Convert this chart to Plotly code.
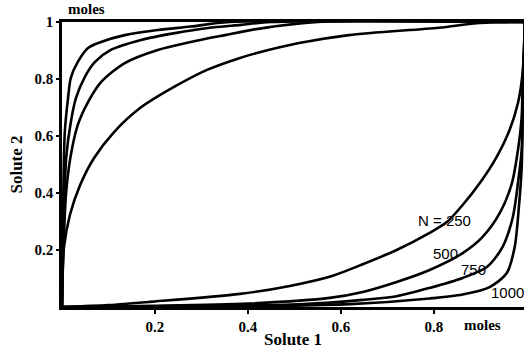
import plotly.graph_objects as go

# Upper-left family (rising steeply from the y axis)
up_1000_x = [0.0, 0.002, 0.006, 0.013, 0.019, 0.034, 0.056, 0.084, 0.135, 0.206, 0.277, 0.36, 1.0]
up_1000_y = [0.0, 0.30, 0.614, 0.733, 0.804, 0.860, 0.909, 0.930, 0.954, 0.972, 0.984, 1.0, 1.0]

up_750_x = [0.0, 0.003, 0.009, 0.019, 0.030, 0.049, 0.071, 0.105, 0.170, 0.243, 0.314, 0.385, 0.45, 1.0]
up_750_y = [0.0, 0.25, 0.523, 0.649, 0.733, 0.807, 0.860, 0.902, 0.937, 0.961, 0.979, 0.990, 1.0, 1.0]

up_500_x = [0.0, 0.003, 0.009, 0.019, 0.034, 0.056, 0.084, 0.135, 0.206, 0.277, 0.351, 0.422, 0.55, 1.0]
up_500_y = [0.0, 0.20, 0.404, 0.533, 0.639, 0.719, 0.789, 0.856, 0.902, 0.930, 0.954, 0.976, 1.0, 1.0]

up_250_x = [0.0, 0.001, 0.004, 0.017, 0.039, 0.069, 0.112, 0.168, 0.241, 0.312, 0.383, 0.419, 0.510, 0.617, 0.811, 0.90, 1.0]
up_250_y = [0.0, 0.10, 0.207, 0.323, 0.428, 0.523, 0.614, 0.698, 0.772, 0.832, 0.874, 0.891, 0.926, 0.954, 0.980, 0.997, 1.0]

# Lower-right family (creeping along the x axis, rising at the right)
lo_250_x = [0.0, 0.10, 0.189, 0.383, 0.490, 0.581, 0.647, 0.720, 0.791, 0.828, 0.862, 0.899, 0.935, 0.963, 0.981, 0.991, 0.996]
lo_250_y = [0.0, 0.007, 0.018, 0.046, 0.074, 0.109, 0.150, 0.200, 0.260, 0.298, 0.358, 0.435, 0.526, 0.621, 0.716, 0.821, 1.0]

lo_500_x = [0.0, 0.20, 0.40, 0.576, 0.647, 0.720, 0.791, 0.862, 0.905, 0.942, 0.968, 0.981, 0.989, 0.991, 0.996]
lo_500_y = [0.0, 0.004, 0.012, 0.032, 0.053, 0.088, 0.130, 0.189, 0.246, 0.330, 0.435, 0.551, 0.667, 0.786, 1.0]

lo_750_x = [0.0, 0.30, 0.52, 0.647, 0.720, 0.791, 0.862, 0.914, 0.948, 0.970, 0.981, 0.989, 0.991, 0.996]
lo_750_y = [0.0, 0.003, 0.010, 0.025, 0.038, 0.067, 0.102, 0.140, 0.211, 0.316, 0.435, 0.551, 0.667, 1.0]

lo_1000_x = [0.0, 0.40, 0.62, 0.791, 0.862, 0.920, 0.957, 0.974, 0.983, 0.989, 0.991, 0.996]
lo_1000_y = [0.0, 0.003, 0.010, 0.030, 0.044, 0.070, 0.119, 0.211, 0.351, 0.491, 0.646, 1.0]

curve_labels = ["N = 250", "500", "750", "1000"]
label_x = [0.822, 0.825, 0.886, 0.958]
label_y = [0.302, 0.186, 0.133, 0.052]

x_ticks = [0.2, 0.4, 0.6, 0.8]
y_ticks = [0.2, 0.4, 0.6, 0.8, 1.0]
y_tick_text = ["0.2", "0.4", "0.6", "0.8", "1"]

fig = go.Figure()
series = [
    (up_1000_x, up_1000_y), (up_750_x, up_750_y), (up_500_x, up_500_y), (up_250_x, up_250_y),
    (lo_250_x, lo_250_y), (lo_500_x, lo_500_y), (lo_750_x, lo_750_y), (lo_1000_x, lo_1000_y),
]
for xs, ys in series:
    fig.add_trace(go.Scatter(x=xs, y=ys, mode="lines",
                             line=dict(color="black", width=2.6, shape="spline", smoothing=0.8),
                             showlegend=False, hoverinfo="skip"))

for t, lx, ly in zip(curve_labels, label_x, label_y):
    fig.add_annotation(x=lx, y=ly, text=t, showarrow=False, xref="x", yref="y",
                       xanchor="center", yanchor="middle",
                       font=dict(family="Liberation Sans", size=15, color="black"))

serif = dict(family="Liberation Serif", size=15, color="black")
fig.add_annotation(x=0.905, y=-0.062, xref="x", yref="paper", text="<b>moles</b>",
                   showarrow=False, xanchor="center", yanchor="middle", font=serif)
fig.add_annotation(x=0.052, y=1.045, xref="x", yref="paper", text="<b>moles</b>",
                   showarrow=False, xanchor="center", yanchor="middle", font=serif)

fig.update_layout(
    width=524, height=352,
    margin=dict(l=62, r=0, t=22, b=45),
    paper_bgcolor="white", plot_bgcolor="white",
    xaxis=dict(range=[0, 0.994], showgrid=False, zeroline=False,
               showline=True, linecolor="black", linewidth=2.5, mirror=True,
               ticks="outside", ticklen=4, tickwidth=2, tickcolor="black",
               tickvals=x_ticks, ticktext=["<b>%s</b>" % v for v in x_ticks],
               tickfont=dict(family="Liberation Serif", size=15, color="black"),
               title=dict(text="<b>Solute 1</b>", font=dict(family="Liberation Serif", size=17, color="black"),
                          standoff=0)),
    yaxis=dict(range=[0, 1], showgrid=False, zeroline=False,
               showline=True, linecolor="black", linewidth=2.5, mirror=False,
               ticks="outside", ticklen=3, tickwidth=2, tickcolor="black",
               tickvals=y_ticks, ticktext=["<b>%s</b>" % t for t in y_tick_text],
               tickfont=dict(family="Liberation Serif", size=15, color="black"),
               title=dict(text="<b>Solute 2</b>", font=dict(family="Liberation Serif", size=17, color="black"),
                          standoff=8)),
)

fig.write_html("out.html")
